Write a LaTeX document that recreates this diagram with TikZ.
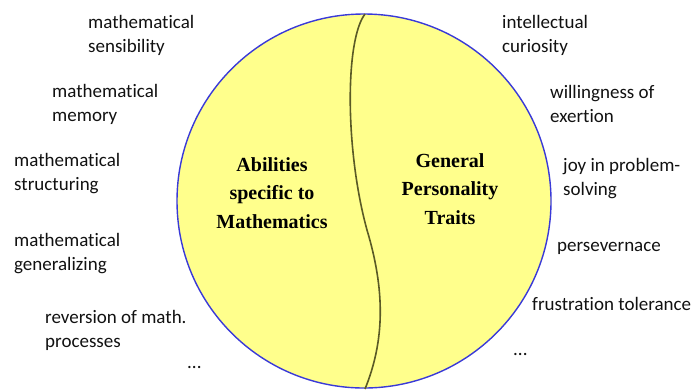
\documentclass[tikz,border=0pt]{standalone}
\usepackage{fontspec}
\setmainfont{Carlito}[Ligatures=NoCommon]
\newfontfamily\timesfont{Liberation Serif}
\usepackage{tikz}
\usepackage{xcolor}
\usetikzlibrary{positioning, shapes.geometric, calc}
\definecolor{cDiscFill}   {HTML}{FFFF8C}
\definecolor{cDiscEdge}   {HTML}{3A3AD8}
\definecolor{cDivide}     {HTML}{5A5A26}
\definecolor{cLabel}      {HTML}{111111}
\tikzset{
  trait/.style={anchor=west, inner sep=0pt, align=left, text=cLabel,
                font=\fontsize{19}{24}\selectfont},
  core/.style={inner sep=0pt, align=center, text=black,
               font=\timesfont\bfseries\fontsize{20}{28.5}\selectfont},
}

\begin{document}
\begin{tikzpicture}[x=1pt, y=-1pt]
        \useasboundingbox (0,0) rectangle (695,389);
        \node[circle, draw=cDiscEdge, fill=cDiscFill, line width=1.4pt,
              minimum size=374pt, inner sep=0pt] (disc) at (364,201) {};
        \coordinate (divtop) at (365,14);
        \coordinate (divbot) at (365,389);
        \draw[cDivide, line width=1.6pt]
              (divtop) .. controls (345,40) and (345,150) .. (367,230)
                       .. controls (385,290) and (385,340) .. (divbot);
        % inner texts
        \node[core] (abil) at (272,193) {Abilities\\specific to\\Mathematics};
        \node[core] (pers) at (450,189) {General\\Personality\\Traits};
        % abilities, left side
        \foreach \nm/\x/\y/\txt in {
            sens/88/35/{mathematical\\sensibility},
            memo/52/104/{mathematical\\memory},
            stru/14/174/{mathematical\\structuring},
            gene/14/254/{mathematical\\generalizing},
            reve/45/330/{reversion of math.\\processes}}{
          \node[trait] (\nm) at (\x,\y) {\txt};
        }
        \node[trait] (ldots) at (187,367) {...};
        % personality traits, right side
        \foreach \nm/\x/\y/\txt in {
            curi/502/35/{intellectual\\curiosity},
            exer/550/104/{willingness of\\exertion},
            joyp/563/179/{joy in problem-\\solving},
            perv/557/248/{persevernace},
            frus/532/304/{frustration tolerance}}{
          \node[trait] (\nm) at (\x,\y) {\txt};
        }
        \node[trait] (rdots) at (513,354) {...};
      \end{tikzpicture}
\end{document}
